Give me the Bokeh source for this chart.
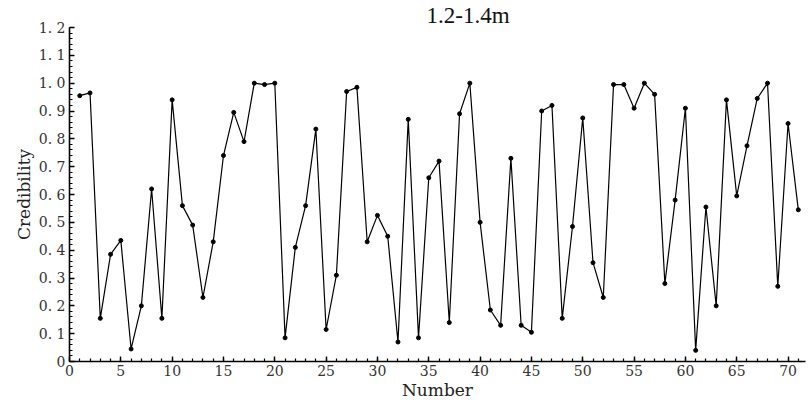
from bokeh.plotting import figure
from bokeh.models import Range1d, FixedTicker, Title
from bokeh.embed import file_html
from bokeh.resources import INLINE

numbers = list(range(1, 72))
credibility = [
    0.955, 0.965, 0.155, 0.385, 0.435, 0.045, 0.20, 0.62, 0.155, 0.94,
    0.56, 0.49, 0.23, 0.43, 0.74, 0.895, 0.79, 1.0, 0.995, 1.0,
    0.085, 0.41, 0.56, 0.835, 0.115, 0.31, 0.97, 0.985, 0.43, 0.525,
    0.45, 0.07, 0.87, 0.085, 0.66, 0.72, 0.14, 0.89, 1.0, 0.50,
    0.185, 0.13, 0.73, 0.13, 0.105, 0.90, 0.92, 0.155, 0.485, 0.875,
    0.355, 0.23, 0.995, 0.995, 0.91, 1.0, 0.96, 0.28, 0.58, 0.91,
    0.04, 0.555, 0.20, 0.94, 0.595, 0.775, 0.945, 1.0, 0.27, 0.855,
    0.545,
]
x_ticks = [0, 5, 10, 15, 20, 25, 30, 35, 40, 45, 50, 55, 60, 65, 70]
y_ticks = [0, 0.1, 0.2, 0.3, 0.4, 0.5, 0.6, 0.7, 0.8, 0.9, 1.0, 1.1, 1.2]
y_tick_labels = ["0", "0. 1", "0. 2", "0. 3", "0. 4", "0. 5", "0. 6",
                 "0. 7", "0. 8", "0. 9", "1. 0", "1. 1", "1. 2"]
title_text = "1.2-1.4m"
x_label = "Number"
y_label = "Credibility"

FONT = "DejaVu Serif"

p = figure(width=809, height=403, output_backend="svg", toolbar_location=None,
           x_range=Range1d(0, 71.7), y_range=Range1d(0, 1.2),
           min_border_left=69, min_border_right=4, min_border_top=26,
           min_border_bottom=42)
p.outline_line_color = None
p.grid.visible = False
p.background_fill_color = "white"
p.border_fill_color = "white"

p.line(numbers, credibility, line_color="black", line_width=1.2)
p.scatter(numbers, credibility, size=4, fill_color="black", line_color="black")

p.xaxis.ticker = FixedTicker(ticks=x_ticks, minor_ticks=list(range(0, 72)))
p.yaxis.ticker = FixedTicker(ticks=y_ticks,
                             minor_ticks=[round(i * 0.02, 2) for i in range(61)])
p.yaxis.major_label_overrides = {t: l for t, l in zip(y_ticks, y_tick_labels)}

for ax in (p.xaxis, p.yaxis):
    ax.axis_line_width = 1.6
    ax.axis_line_color = "black"
    ax.major_tick_in = 5
    ax.major_tick_out = 0
    ax.minor_tick_in = 3
    ax.minor_tick_out = 0
    ax.major_tick_line_width = 1.4
    ax.minor_tick_line_width = 1.2
    ax.major_tick_line_color = "black"
    ax.minor_tick_line_color = "black"
    ax.major_label_text_font = FONT
    ax.major_label_text_font_size = "14px"
    ax.major_label_text_color = "#333333"
    ax.axis_label_text_font = FONT
    ax.axis_label_text_font_style = "normal"
    ax.axis_label_text_font_size = "17px"
    ax.axis_label_text_color = "#222222"

p.xaxis.axis_label = x_label
p.yaxis.axis_label = y_label
p.xaxis.major_label_standoff = 3
p.xaxis.axis_label_standoff = 1
p.yaxis.major_label_standoff = 4
p.yaxis.axis_label_standoff = 2

t = Title(text=title_text, text_font="Liberation Serif", text_font_size="23px",
          text_font_style="normal", text_color="#111111", align="left",
          offset=357, standoff=0, text_line_height=1.0)
p.add_layout(t, "above")

open("out.html", "w").write(file_html(p, INLINE))
